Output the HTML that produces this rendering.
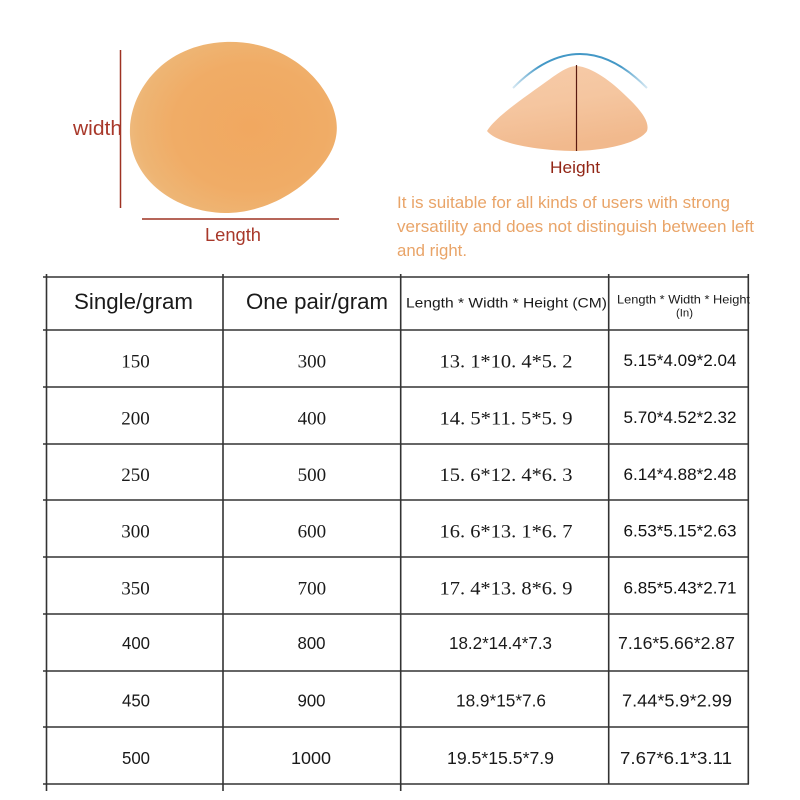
<!DOCTYPE html>
<html>
<head>
<meta charset="utf-8">
<style>
html,body{margin:0;padding:0;background:#fff;}
svg{display:block;}
</style>
</head>
<body>
<svg width="800" height="800" viewBox="0 0 800 800" xmlns="http://www.w3.org/2000/svg">
  <defs>
    <radialGradient id="blob" cx="0.58" cy="0.5" r="0.62">
      <stop offset="0" stop-color="#F1A860"/>
      <stop offset="0.6" stop-color="#F0AC66"/>
      <stop offset="0.88" stop-color="#EEB574"/>
      <stop offset="1" stop-color="#EDBE86"/>
    </radialGradient>
    <linearGradient id="dome" x1="0" y1="0" x2="0.3" y2="1">
      <stop offset="0" stop-color="#F6CBA9"/>
      <stop offset="0.5" stop-color="#F5C6A0"/>
      <stop offset="1" stop-color="#F1B98D"/>
    </linearGradient>
    <linearGradient id="arc" x1="513" y1="0" x2="647" y2="0" gradientUnits="userSpaceOnUse">
      <stop offset="0" stop-color="#2E8CC0" stop-opacity="0.2"/>
      <stop offset="0.2" stop-color="#2E8CC0" stop-opacity="0.9"/>
      <stop offset="0.8" stop-color="#2E8CC0" stop-opacity="0.9"/>
      <stop offset="1" stop-color="#2E8CC0" stop-opacity="0.2"/>
    </linearGradient>
  </defs>

  <!-- Left blob -->
  <path d="M130,135 C128,95 160,45 225,42 C280,40 318,72 332,105 C342,130 336,150 318,170 C295,196 260,213 225,213 C175,212 132,180 130,135 Z" fill="url(#blob)"/>
  <line x1="120.5" y1="50" x2="120.5" y2="208" stroke="#9E3222" stroke-width="1.5"/>
  <line x1="142" y1="219" x2="339" y2="219" stroke="#9E3222" stroke-width="1.5"/>
  <text x="73" y="135" font-family="Liberation Sans, sans-serif" font-size="20" fill="#A8382A" textLength="49" lengthAdjust="spacingAndGlyphs">width</text>
  <text x="205" y="241" font-family="Liberation Sans, sans-serif" font-size="18" fill="#A8382A" textLength="56" lengthAdjust="spacingAndGlyphs">Length</text>

  <!-- Right dome -->
  <path d="M513,88 Q580,20 647,88" fill="none" stroke="url(#arc)" stroke-width="2"/>
  <path d="M487,131 C496,116 528,95 550,79 C561,71 569,66 577,66 C592,67 612,82 626,96 C641,110 650,122 647,131 C640,142 610,150 577,151 C545,151 498,145 487,131 Z" fill="url(#dome)"/>
  <line x1="576.5" y1="65" x2="576.5" y2="151" stroke="#5A1A10" stroke-width="1.2"/>
  <text x="550" y="173" font-family="Liberation Sans, sans-serif" font-size="17" fill="#922616" textLength="50" lengthAdjust="spacingAndGlyphs">Height</text>

  <g font-family="Liberation Sans, sans-serif" font-size="16.5" fill="#E9A468">
    <text x="397" y="208" textLength="333" lengthAdjust="spacingAndGlyphs">It is suitable for all kinds of users with strong</text>
    <text x="397" y="232" textLength="357" lengthAdjust="spacingAndGlyphs">versatility and does not distinguish between left</text>
    <text x="397" y="256" textLength="70" lengthAdjust="spacingAndGlyphs">and right.</text>
  </g>

  <!-- Table lines -->
  <g stroke="#333" stroke-width="1.6">
    <line x1="43" y1="277" x2="749" y2="277"/>
    <line x1="43" y1="330" x2="749" y2="330"/>
    <line x1="43" y1="387" x2="749" y2="387"/>
    <line x1="43" y1="444" x2="749" y2="444"/>
    <line x1="43" y1="500" x2="749" y2="500"/>
    <line x1="43" y1="557" x2="749" y2="557"/>
    <line x1="43" y1="614" x2="749" y2="614"/>
    <line x1="43" y1="671" x2="749" y2="671"/>
    <line x1="43" y1="727" x2="749" y2="727"/>
    <line x1="43" y1="784" x2="749" y2="784"/>
    <line x1="46.5" y1="274" x2="46.5" y2="791"/>
    <line x1="223" y1="274" x2="223" y2="791"/>
    <line x1="400.7" y1="274" x2="400.7" y2="791"/>
    <line x1="608.7" y1="274" x2="608.7" y2="784"/>
    <line x1="748.3" y1="274" x2="748.3" y2="784"/>
  </g>

  <!-- Header -->
  <g font-family="Liberation Sans, sans-serif" fill="#1a1a1a">
    <text x="74" y="309" font-size="22" textLength="119" lengthAdjust="spacingAndGlyphs">Single/gram</text>
    <text x="246" y="309" font-size="22" textLength="142" lengthAdjust="spacingAndGlyphs">One pair/gram</text>
    <text x="406" y="307.5" font-size="14" textLength="201" lengthAdjust="spacingAndGlyphs">Length * Width * Height (CM)</text>
    <text x="617" y="303.5" font-size="12" textLength="133" lengthAdjust="spacingAndGlyphs">Length * Width * Height</text>
    <text x="676" y="316.5" font-size="11" textLength="17" lengthAdjust="spacingAndGlyphs">(In)</text>
  </g>

  <!-- Serif rows 1-5 -->
  <g font-family="Liberation Serif, serif" font-size="19" fill="#1a1a1a" text-anchor="middle">
    <text x="135.5" y="367.5">150</text>
    <text x="311.9" y="367.5">300</text>
    <text x="506" y="367.5" textLength="133" lengthAdjust="spacingAndGlyphs">13. 1*10. 4*5. 2</text>

    <text x="135.5" y="424.5">200</text>
    <text x="311.9" y="424.5">400</text>
    <text x="506" y="424.5" textLength="133" lengthAdjust="spacingAndGlyphs">14. 5*11. 5*5. 9</text>

    <text x="135.5" y="481">250</text>
    <text x="311.9" y="481">500</text>
    <text x="506" y="481" textLength="133" lengthAdjust="spacingAndGlyphs">15. 6*12. 4*6. 3</text>

    <text x="135.5" y="537.5">300</text>
    <text x="311.9" y="537.5">600</text>
    <text x="506" y="537.5" textLength="133" lengthAdjust="spacingAndGlyphs">16. 6*13. 1*6. 7</text>

    <text x="135.5" y="594.5">350</text>
    <text x="311.9" y="594.5">700</text>
    <text x="506" y="594.5" textLength="133" lengthAdjust="spacingAndGlyphs">17. 4*13. 8*6. 9</text>
  </g>

  <!-- Col 4 rows 1-5 -->
  <g font-family="Liberation Sans, sans-serif" font-size="17" fill="#111" text-anchor="middle">
    <text x="680" y="366" textLength="113" lengthAdjust="spacingAndGlyphs">5.15*4.09*2.04</text>
    <text x="680" y="423" textLength="113" lengthAdjust="spacingAndGlyphs">5.70*4.52*2.32</text>
    <text x="680" y="480" textLength="113" lengthAdjust="spacingAndGlyphs">6.14*4.88*2.48</text>
    <text x="680" y="536.5" textLength="113" lengthAdjust="spacingAndGlyphs">6.53*5.15*2.63</text>
    <text x="680" y="593.5" textLength="113" lengthAdjust="spacingAndGlyphs">6.85*5.43*2.71</text>
  </g>

  <!-- Narrow sans rows 6-8 -->
  <g font-family="Liberation Sans, sans-serif" font-size="17.5" fill="#1a1a1a" text-anchor="middle">
    <text x="136" y="649" textLength="28" lengthAdjust="spacingAndGlyphs">400</text>
    <text x="311.5" y="649" textLength="28" lengthAdjust="spacingAndGlyphs">800</text>
    <text x="500.5" y="649" textLength="103" lengthAdjust="spacingAndGlyphs">18.2*14.4*7.3</text>
    <text x="676.5" y="649" textLength="117" lengthAdjust="spacingAndGlyphs">7.16*5.66*2.87</text>

    <text x="136" y="706.5" textLength="28" lengthAdjust="spacingAndGlyphs">450</text>
    <text x="311.5" y="706.5" textLength="28" lengthAdjust="spacingAndGlyphs">900</text>
    <text x="501" y="706.5" textLength="90" lengthAdjust="spacingAndGlyphs">18.9*15*7.6</text>
    <text x="677" y="706.5" textLength="110" lengthAdjust="spacingAndGlyphs">7.44*5.9*2.99</text>

    <text x="136" y="764" textLength="28" lengthAdjust="spacingAndGlyphs">500</text>
    <text x="311" y="764" textLength="40" lengthAdjust="spacingAndGlyphs">1000</text>
    <text x="500.5" y="764" textLength="107" lengthAdjust="spacingAndGlyphs">19.5*15.5*7.9</text>
    <text x="676" y="764" textLength="112" lengthAdjust="spacingAndGlyphs">7.67*6.1*3.11</text>
  </g>
</svg>
</body>
</html>
